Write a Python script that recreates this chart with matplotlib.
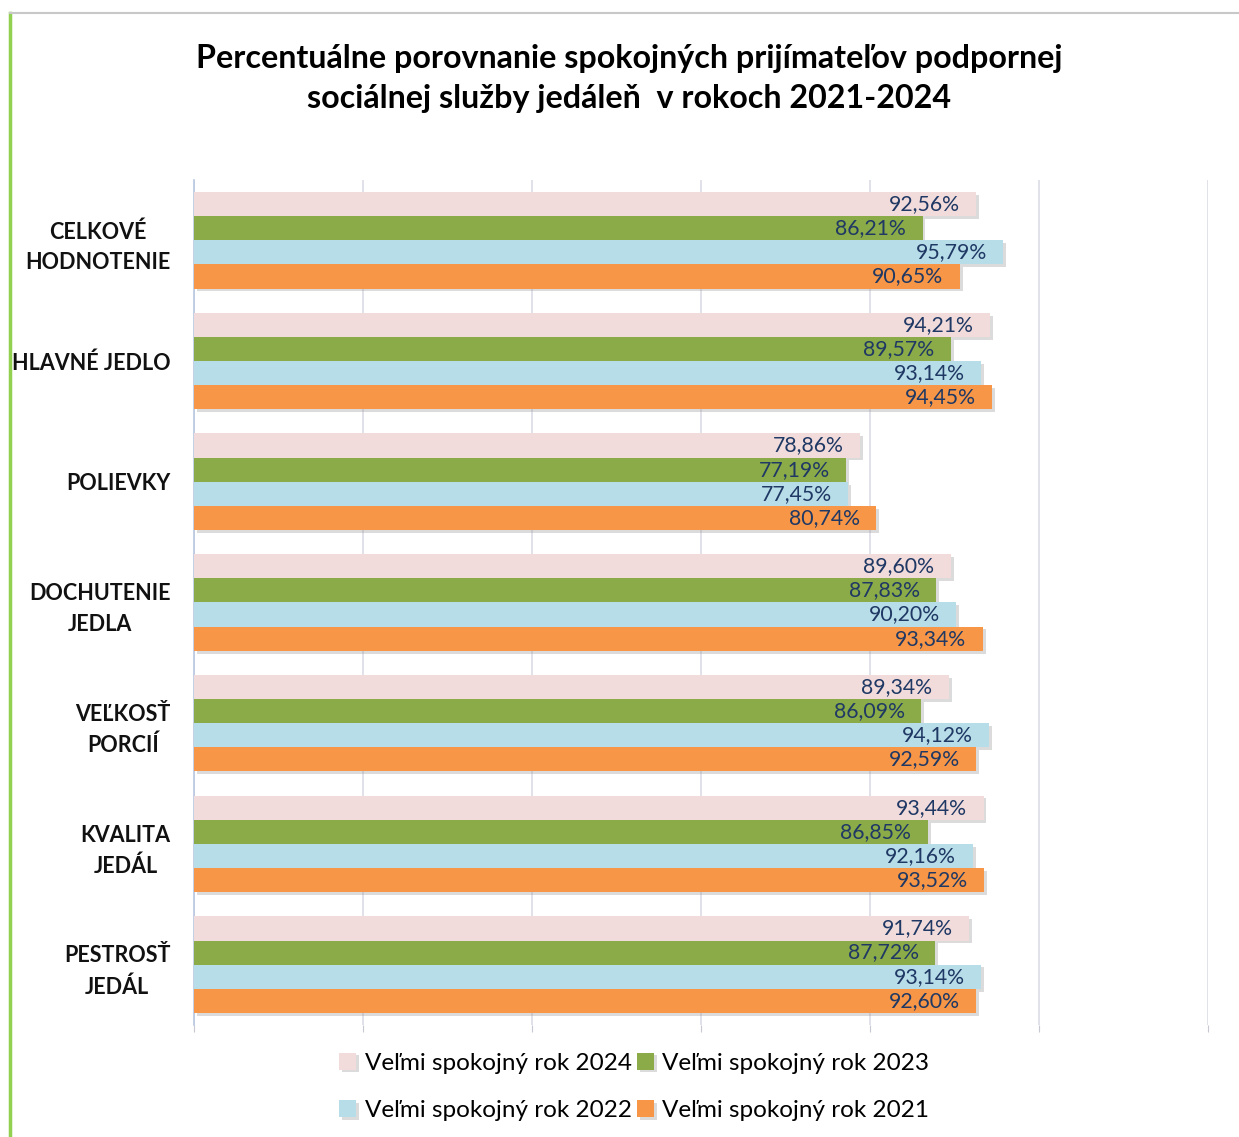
import matplotlib
matplotlib.use("Agg")
import matplotlib.pyplot as plt
import matplotlib.patheffects as pe
from matplotlib.lines import Line2D
import numpy as np

plt.rcParams['font.family'] = ['Lato', 'DejaVu Sans']

categories = ["CELKOVÉ\nHODNOTENIE", "HLAVNÉ JEDLO", "POLIEVKY", "DOCHUTENIE\nJEDLA",
              "VEĽKOSŤ\nPORCIÍ", "KVALITA\nJEDÁL", "PESTROSŤ\nJEDÁL"]
series_names = ["Veľmi spokojný rok 2024", "Veľmi spokojný rok 2023",
                "Veľmi spokojný rok 2022", "Veľmi spokojný rok 2021"]
v2024 = [92.56, 94.21, 78.86, 89.60, 89.34, 93.44, 91.74]
v2023 = [86.21, 89.57, 77.19, 87.83, 86.09, 86.85, 87.72]
v2022 = [95.79, 93.14, 77.45, 90.20, 94.12, 92.16, 93.14]
v2021 = [90.65, 94.45, 80.74, 93.34, 92.59, 93.52, 92.60]
series = [v2024, v2023, v2022, v2021]
colors = ["#F2DCDB", "#8AAB47", "#B7DDE8", "#F79646"]
title = "Percentuálne porovnanie spokojných prijímateľov podpornej\nsociálnej služby jedáleň  v rokoch 2021-2024"

fig = plt.figure(figsize=(12.39, 11.37), dpi=100)
ax = fig.add_axes([0.1566, 0.0985, 0.975 - 0.1566, 0.8417 - 0.0985])

y = np.arange(len(categories))
h = 0.2
shadow = [pe.withSimplePatchShadow(offset=(2, -2), shadow_rgbFace='#999999', alpha=0.35)]
handles = []
for i, (vals, col, name) in enumerate(zip(series, colors, series_names)):
    pos = y - 0.3 + i * h
    bars = ax.barh(pos, vals, height=h, color=col, label=name, zorder=3, path_effects=shadow)
    handles.append(bars)
    for p, v in zip(pos, vals):
        ax.annotate(f"{v:.2f}%".replace('.', ','), xy=(v, p), xytext=(-12, 0),
                    textcoords='offset points', ha='right', va='center',
                    fontsize=15.3, color='#1F3864', zorder=5)

ax.set_xlim(0, 120)
ax.set_ylim(6.5, -0.5)
ax.set_xticks(np.arange(0, 121, 20))
ax.set_xticklabels([])
ax.grid(axis='x', color='#DCDCE6', linewidth=1.2, zorder=0)
ax.set_yticks(y)
ax.set_yticklabels(categories, fontsize=15.5, fontweight='bold', color='#111111')
for lbl in ax.get_yticklabels():
    lbl.set_multialignment('center')
    lbl.set_linespacing(1.55)
ax.tick_params(axis='y', length=0, pad=17)
ax.tick_params(axis='x', length=5, color='#C8C8D2', direction='out')
for s in ['top', 'right', 'bottom']:
    ax.spines[s].set_visible(False)
ax.spines['left'].set_color('#B9C7E0')
ax.spines['left'].set_linewidth(1.2)

fig.text(0.508, 0.931, title, ha='center', va='center', fontsize=23.2,
         fontweight='bold', linespacing=1.45, color='#000000')

order = [0, 2, 1, 3]
leg = fig.legend([handles[k] for k in order], [series_names[k] for k in order],
                 ncol=2, loc='center', bbox_to_anchor=(0.512, 0.044), frameon=False,
                 fontsize=17.5, handlelength=0.7, handleheight=0.7, handletextpad=0.35,
                 columnspacing=0.2, labelspacing=1.1)

fig.add_artist(Line2D([10 / 1239, 10 / 1239], [0, 1 - 13 / 1137], color='#92D050',
                      linewidth=2.5, transform=fig.transFigure))
fig.add_artist(Line2D([10 / 1239, 1], [1 - 13 / 1137, 1 - 13 / 1137], color='#C8C8C8',
                      linewidth=1.5, transform=fig.transFigure))

fig.savefig("out.png", dpi=100, facecolor='white')
